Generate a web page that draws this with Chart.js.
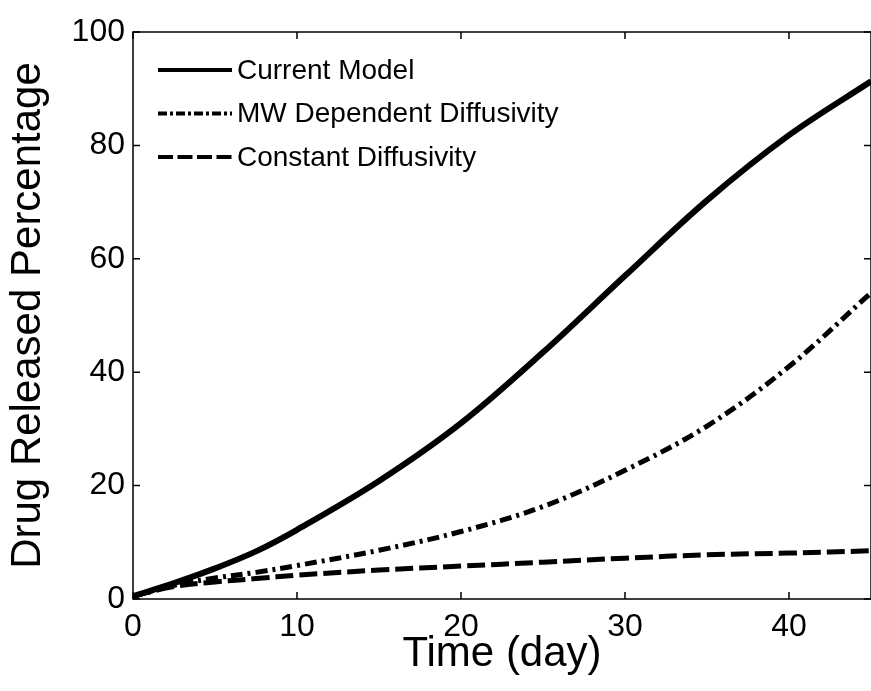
<!DOCTYPE html>
<html>
<head>
<meta charset="utf-8">
<script src="https://cdn.jsdelivr.net/npm/chart.js@4.4.0/dist/chart.umd.min.js"></script>
<style>
  html, body { margin: 0; padding: 0; background: #fff; }
  #wrap { width: 871px; height: 691px; }
</style>
</head>
<body>
<div id="wrap"><canvas id="releaseChart" width="871" height="691"></canvas></div>
<script>
// release curves, read at these days
var days = [0, 2.5, 5, 7.5, 10, 15, 20, 25, 30, 35, 40, 45];
var currentModel = [0.5, 2.8, 5.4, 8.4, 12.2, 20.8, 31, 43.5, 57, 70.3, 81.8, 91.3];
var mwDependent = [0.5, 2.4, 3.7, 4.7, 5.9, 8.6, 11.9, 16.3, 22.7, 30.5, 41, 54];
var constantDiff = [0.5, 2.2, 3.0, 3.6, 4.2, 5.1, 5.8, 6.5, 7.2, 7.8, 8.1, 8.5];

var seriesNames = ["Current Model", "MW Dependent Diffusivity", "Constant Diffusivity"];
var xTicks = [0, 10, 20, 30, 40];
var yTicks = [0, 20, 40, 60, 80, 100];

var FONT = "'Liberation Sans', Arial, Helvetica, sans-serif";

function pts(ys) {
  return days.map(function(d, i) { return {x: d, y: ys[i]}; });
}

// box around the axes + matlab style inward ticks
var frameTicks = {
  id: 'frameTicks',
  afterDatasetsDraw: function(chart) {
    var ctx = chart.ctx, a = chart.chartArea;
    var xs = chart.scales.x, ys = chart.scales.y;
    ctx.save();
    ctx.strokeStyle = '#000';
    ctx.lineWidth = 1.5;
    ctx.setLineDash([]);
    ctx.strokeRect(a.left, a.top, a.right - a.left, a.bottom - a.top);
    ctx.beginPath();
    xTicks.forEach(function(v) {
      var px = xs.getPixelForValue(v);
      ctx.moveTo(px, a.bottom); ctx.lineTo(px, a.bottom - 7);
      ctx.moveTo(px, a.top); ctx.lineTo(px, a.top + 7);
    });
    yTicks.forEach(function(v) {
      var py = ys.getPixelForValue(v);
      ctx.moveTo(a.left, py); ctx.lineTo(a.left + 7, py);
      ctx.moveTo(a.right, py); ctx.lineTo(a.right - 7, py);
    });
    ctx.stroke();
    ctx.restore();
  }
};

// legend inside the axes, no box
var innerLegend = {
  id: 'innerLegend',
  afterDraw: function(chart) {
    var ctx = chart.ctx, a = chart.chartArea;
    ctx.save();
    ctx.font = '28px ' + FONT;
    ctx.fillStyle = '#000';
    ctx.textBaseline = 'middle';
    chart.data.datasets.forEach(function(ds, i) {
      var y = a.top + 38 + i * 43.5;
      var x0 = a.left + 25;
      ctx.strokeStyle = '#000';
      ctx.lineWidth = 4;
      ctx.setLineDash(ds.legendDash || []);
      ctx.beginPath();
      ctx.moveTo(x0, y); ctx.lineTo(x0 + 74, y);
      ctx.stroke();
      ctx.setLineDash([]);
      ctx.fillText(ds.label, x0 + 79, y + 1);
    });
    ctx.restore();
  }
};

var ctx = document.getElementById("releaseChart");
var releaseChart = new Chart(ctx, {
  type: 'line',
  data: {
    datasets: [
      {
        label: seriesNames[0],
        data: pts(currentModel),
        borderColor: '#000',
        borderWidth: 6,
        legendDash: []
      },
      {
        label: seriesNames[1],
        data: pts(mwDependent),
        borderColor: '#000',
        borderWidth: 5,
        borderDash: [12, 5, 3, 5],
        legendDash: [9, 3, 3, 3]
      },
      {
        label: seriesNames[2],
        data: pts(constantDiff),
        borderColor: '#000',
        borderWidth: 5,
        borderDash: [18, 6],
        legendDash: [15, 4.5]
      }
    ]
  },
  options: {
    responsive: false,
    animation: false,
    events: [],
    layout: { padding: { top: 32, right: 0, left: 0, bottom: 0 } },
    elements: {
      point: { radius: 0 },
      line: { tension: 0.35, borderCapStyle: 'butt', borderJoinStyle: 'round' }
    },
    plugins: {
      legend: { display: false },
      tooltip: { enabled: false }
    },
    scales: {
      x: {
        type: 'linear',
        min: 0,
        max: 45,
        grid: { display: false, drawTicks: false },
        border: { display: false },
        ticks: {
          stepSize: 10,
          includeBounds: false,
          padding: 9,
          color: '#000',
          font: { family: FONT, size: 32 }
        },
        title: {
          display: true,
          text: 'Time (day)',
          color: '#000',
          font: { family: FONT, size: 42 },
          padding: { top: 0, bottom: 11 }
        },
        afterFit: function(scale) { scale.height = 92; }
      },
      y: {
        min: 0,
        max: 100,
        grid: { display: false, drawTicks: false },
        border: { display: false },
        ticks: {
          stepSize: 20,
          padding: 8,
          color: '#000',
          font: { family: FONT, size: 32 }
        },
        title: {
          display: true,
          text: 'Drug Released Percentage',
          color: '#000',
          font: { family: FONT, size: 42 },
          padding: { top: 3, bottom: 0 }
        },
        afterFit: function(scale) { scale.width = 133; }
      }
    }
  },
  plugins: [frameTicks, innerLegend]
});
</script>
</body>
</html>
